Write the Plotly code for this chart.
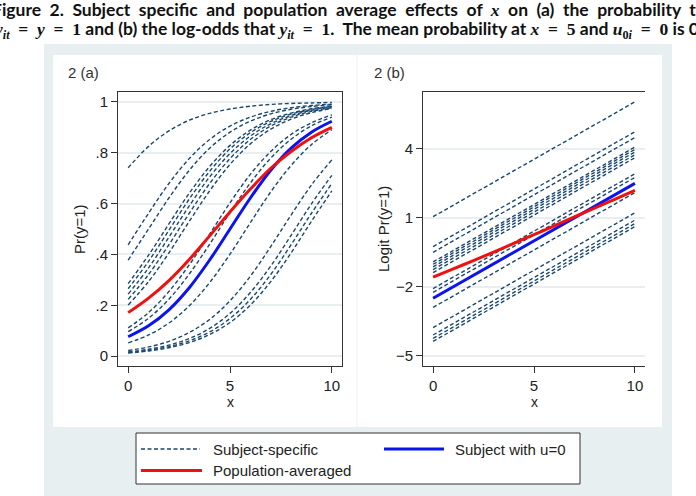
import plotly.graph_objects as go

# ---------------- data ----------------
x_grid = [0, 1, 2, 3, 4, 5, 6, 7, 8, 9, 10]
x_ends = [0, 10]

# Panel 2(a): Pr(y=1) for each subject at x = 0..10
subject_prob = [
    [0.741, 0.825, 0.886, 0.928, 0.955, 0.972, 0.983, 0.990, 0.994, 0.996, 0.998],
    [0.438, 0.562, 0.679, 0.777, 0.852, 0.905, 0.940, 0.963, 0.977, 0.986, 0.991],
    [0.378, 0.500, 0.622, 0.731, 0.818, 0.881, 0.924, 0.953, 0.971, 0.982, 0.989],
    [0.285, 0.397, 0.520, 0.641, 0.746, 0.829, 0.889, 0.930, 0.956, 0.973, 0.983],
    [0.265, 0.373, 0.495, 0.618, 0.727, 0.815, 0.879, 0.923, 0.952, 0.970, 0.982],
    [0.244, 0.347, 0.468, 0.591, 0.705, 0.797, 0.866, 0.914, 0.946, 0.967, 0.980],
    [0.223, 0.321, 0.438, 0.562, 0.679, 0.777, 0.852, 0.905, 0.940, 0.963, 0.977],
    [0.201, 0.293, 0.406, 0.530, 0.650, 0.754, 0.835, 0.893, 0.932, 0.958, 0.974],
    [0.111, 0.171, 0.254, 0.359, 0.480, 0.603, 0.715, 0.805, 0.872, 0.918, 0.949],
    [0.096, 0.149, 0.224, 0.323, 0.440, 0.565, 0.681, 0.779, 0.853, 0.906, 0.940],
    [0.052, 0.083, 0.130, 0.198, 0.289, 0.401, 0.525, 0.646, 0.750, 0.832, 0.891],
    [0.022, 0.036, 0.058, 0.093, 0.144, 0.218, 0.314, 0.431, 0.555, 0.673, 0.772],
    [0.016, 0.027, 0.043, 0.069, 0.109, 0.168, 0.250, 0.354, 0.475, 0.599, 0.711],
    [0.014, 0.023, 0.037, 0.060, 0.095, 0.148, 0.223, 0.321, 0.438, 0.562, 0.679],
    [0.012, 0.020, 0.033, 0.053, 0.085, 0.132, 0.201, 0.293, 0.406, 0.530, 0.650],
]
u0_prob = [0.076, 0.119, 0.182, 0.269, 0.378, 0.500, 0.622, 0.731, 0.818, 0.881, 0.924]
pa_prob = [0.171, 0.228, 0.297, 0.380, 0.473, 0.567, 0.657, 0.739, 0.805, 0.859, 0.900]

# Panel 2(b): Logit Pr(y=1) for each subject at x = 0 and x = 10
subject_logit = [
    [1.05, 6.05], [-0.25, 4.75], [-0.50, 4.50], [-0.92, 4.08], [-1.02, 3.98],
    [-1.13, 3.87], [-1.25, 3.75], [-1.38, 3.62], [-2.08, 2.92], [-2.24, 2.76],
    [-2.90, 2.10], [-3.78, 1.22], [-4.10, 0.90], [-4.25, 0.75], [-4.38, 0.62],
]
u0_logit = [-2.5, 2.5]
pa_logit = [-1.58, -1.22, -0.86, -0.49, -0.11, 0.27, 0.65, 1.04, 1.42, 1.81, 2.20]

prob_ticks = [0, 0.2, 0.4, 0.6, 0.8, 1]
prob_ticktext = ["0", ".2", ".4", ".6", ".8", "1"]
logit_ticks = [-5, -2, 1, 4]
x_ticks = [0, 5, 10]

legend_labels = ["Subject-specific", "Subject with u=0", "Population-averaged"]

# ---------------- styles ----------------
W, H = 696, 496
NAVY = "#1a476f"
BLUE = "#0a14f0"
RED = "#f01010"
BG = "#e8eff1"
GRID = "#e9eef0"
FONT = "Liberation Sans"
DASH = "4px,2.5px"
FS = 15


def px(x):
    return x / W


def py(y):
    return 1 - y / H


fig = go.Figure()

# panel (a)
for row in subject_prob:
    fig.add_trace(go.Scatter(x=x_grid, y=row, mode="lines", line=dict(color=NAVY, width=1.4, dash=DASH, shape="spline"),
                             xaxis="x", yaxis="y", showlegend=False, hoverinfo="skip"))
fig.add_trace(go.Scatter(x=x_grid, y=u0_prob, mode="lines", line=dict(color=BLUE, width=3, shape="spline"),
                         xaxis="x", yaxis="y", showlegend=False))
fig.add_trace(go.Scatter(x=x_grid, y=pa_prob, mode="lines", line=dict(color=RED, width=3, shape="spline"),
                         xaxis="x", yaxis="y", showlegend=False))

# panel (b)
for row in subject_logit:
    fig.add_trace(go.Scatter(x=x_ends, y=row, mode="lines", line=dict(color=NAVY, width=1.4, dash=DASH),
                             xaxis="x2", yaxis="y2", showlegend=False, hoverinfo="skip"))
fig.add_trace(go.Scatter(x=x_ends, y=u0_logit, mode="lines", line=dict(color=BLUE, width=3),
                         xaxis="x2", yaxis="y2", showlegend=False))
fig.add_trace(go.Scatter(x=x_grid, y=pa_logit, mode="lines", line=dict(color=RED, width=3, shape="spline"),
                         xaxis="x2", yaxis="y2", showlegend=False))

axis_common = dict(showline=True, linecolor="#333333", linewidth=1, ticks="outside", ticklen=6,
                   tickcolor="#333333", tickfont=dict(family=FONT, size=FS, color="#222222"),
                   zeroline=False)

ydom = [py(366), py(92)]
fig.update_layout(
    width=W, height=H, autosize=False,
    margin=dict(l=0, r=0, t=0, b=0),
    paper_bgcolor="white", plot_bgcolor="white",
    xaxis=dict(domain=[px(118), px(342)], range=[-0.5, 10.5], tickvals=x_ticks, showgrid=False,
               mirror=True, anchor="y", **axis_common),
    yaxis=dict(domain=ydom, range=[-0.039, 1.039], tickvals=prob_ticks, ticktext=prob_ticktext,
               showgrid=True, gridcolor=GRID, gridwidth=1.5, mirror=True, anchor="x", **axis_common),
    xaxis2=dict(domain=[px(423), px(645)], range=[-0.5, 10.5], tickvals=x_ticks, showgrid=False,
                mirror=True, anchor="y2", **axis_common),
    yaxis2=dict(domain=ydom, range=[-5.45, 6.48], tickvals=logit_ticks,
                showgrid=True, gridcolor=GRID, gridwidth=1.5, anchor="x2", **axis_common),
    showlegend=False,
)

shapes = []
# outer bluish background and white panels
shapes.append(dict(type="rect", xref="paper", yref="paper", x0=px(44), x1=px(672), y0=py(496), y1=py(44),
                   fillcolor=BG, line=dict(width=0), layer="below"))
shapes.append(dict(type="rect", xref="paper", yref="paper", x0=px(53), x1=px(357), y0=py(427), y1=py(55),
                   fillcolor="white", line=dict(width=0), layer="below"))
shapes.append(dict(type="rect", xref="paper", yref="paper", x0=px(357), x1=px(662), y0=py(427), y1=py(55),
                   fillcolor="white", line=dict(width=0), layer="below"))
shapes.append(dict(type="line", xref="paper", yref="paper", x0=px(357), x1=px(357), y0=py(427), y1=py(55),
                   line=dict(color="#eef2f4", width=1), layer="below"))
# legend box
shapes.append(dict(type="rect", xref="paper", yref="paper", x0=px(136), x1=px(580), y0=py(484), y1=py(433),
                   fillcolor="white", line=dict(color="#333333", width=1)))
shapes.append(dict(type="line", xref="paper", yref="paper", x0=px(141), x1=px(200), y0=py(449), y1=py(449),
                   line=dict(color=NAVY, width=1.4, dash="4px,2.5px")))
shapes.append(dict(type="line", xref="paper", yref="paper", x0=px(384), x1=px(444), y0=py(449), y1=py(449),
                   line=dict(color=BLUE, width=3)))
shapes.append(dict(type="line", xref="paper", yref="paper", x0=px(141), x1=px(202), y0=py(470.5), y1=py(470.5),
                   line=dict(color=RED, width=3)))
fig.update_layout(shapes=shapes)

ann = []


def text(x, y, s, size=FS, xanchor="left", angle=0, family=FONT, color="#222222"):
    ann.append(dict(x=px(x), y=py(y), xref="paper", yref="paper", text=s, showarrow=False,
                    xanchor=xanchor, yanchor="middle", textangle=angle,
                    font=dict(family=family, size=size, color=color)))


# panel titles
text(66, 72.5, "2 (a)", FS, color="#333333")
text(372, 72.5, "2 (b)", FS, color="#333333")
# axis titles
text(79, 229, "Pr(y=1)", FS, xanchor="center", angle=-90)
text(383, 229, "Logit Pr(y=1)", FS, xanchor="center", angle=-90)
text(230, 402, "x", 14, xanchor="center")
text(534, 402, "x", 14, xanchor="center")
# legend labels
text(211, 449, legend_labels[0], FS)
text(453, 449, legend_labels[1], FS)
text(211, 470.5, legend_labels[2], FS)

# caption
SP = "\u00a0\u00a0"
EQ = "\u00a0\u00a0=\u00a0\u00a0"
MS = "font-family:'Liberation Serif'"
line1 = SP.join(["Figure", "2.", "Subject", "specific", "and", "population", "average", "effects", "of",
                 "<span style=\"%s\"><i>x</i></span>" % MS, "on", "(a)", "the", "probability", "that"])
line2 = ("<span style=\"{ms}\"><i>y</i><sub><i>it</i></sub>{eq}<i>y</i>{eq}1</span> and (b) the log-odds that "
         "<span style=\"{ms}\"><i>y</i><sub><i>it</i></sub>{eq}1</span>.\u00a0 The mean probability at "
         "<span style=\"{ms}\"><i>x</i>{eq}5</span> and <span style=\"{ms}\"><i>u</i><sub>0<i>i</i></sub>{eq}0</span> is 0.5"
         ).format(ms=MS, eq=EQ)
ann.append(dict(x=px(-10), y=py(9), xref="paper", yref="paper", text="<b>" + line1 + "</b>", showarrow=False,
                xanchor="left", yanchor="middle", font=dict(family="Lato", size=17.5, color="#111111")))
ann.append(dict(x=px(-9), y=py(30), xref="paper", yref="paper", text="<b>" + line2 + "</b>", showarrow=False,
                xanchor="left", yanchor="middle", font=dict(family="Lato", size=17.5, color="#111111")))
fig.update_layout(annotations=ann)

fig.write_html("out.html")
